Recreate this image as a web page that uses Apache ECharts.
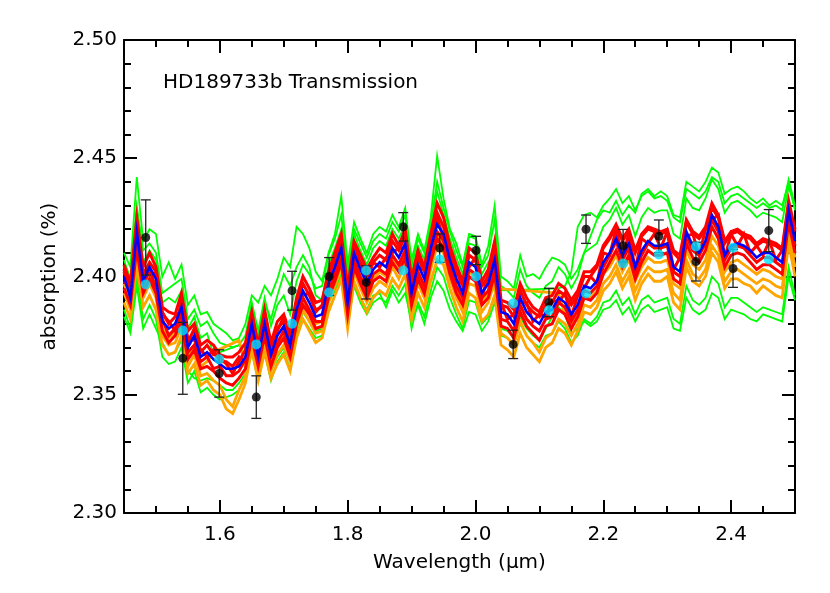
<!DOCTYPE html>
<html>
<head>
<meta charset="utf-8">
<title>HD189733b Transmission</title>
<script src="https://cdn.jsdelivr.net/npm/echarts@6/dist/echarts.min.js"></script>
<style>
  html, body { margin: 0; padding: 0; background: #fff; }
  #chart { width: 830px; height: 593px; }
</style>
</head>
<body>
<div id="chart"></div>
<script>
// wavelength grid of the model spectra (micron)
const wave = [
  1.45, 1.46, 1.47, 1.48, 1.49, 1.50, 1.51, 1.52, 1.53, 1.54,
  1.55, 1.56, 1.57, 1.58, 1.59, 1.60, 1.61, 1.62, 1.63, 1.64,
  1.65, 1.66, 1.67, 1.68, 1.69, 1.70, 1.71, 1.72, 1.73, 1.74,
  1.75, 1.76, 1.77, 1.78, 1.79, 1.80, 1.81, 1.82, 1.83, 1.84,
  1.85, 1.86, 1.87, 1.88, 1.89, 1.90, 1.91, 1.92, 1.93, 1.94,
  1.95, 1.96, 1.97, 1.98, 1.99, 2.00, 2.01, 2.02, 2.03, 2.04,
  2.05, 2.06, 2.07, 2.08, 2.09, 2.10, 2.11, 2.12, 2.13, 2.14,
  2.15, 2.16, 2.17, 2.18, 2.19, 2.20, 2.21, 2.22, 2.23, 2.24,
  2.25, 2.26, 2.27, 2.28, 2.29, 2.30, 2.31, 2.32, 2.33, 2.34,
  2.35, 2.36, 2.37, 2.38, 2.39, 2.40, 2.41, 2.42, 2.43, 2.44,
  2.45, 2.46, 2.47, 2.48, 2.49, 2.50
]

// green model spectra (widest spread)
const green1 = [
  2.410, 2.404, 2.442, 2.415, 2.420, 2.418, 2.400, 2.406, 2.399, 2.405,
  2.388, 2.392, 2.384, 2.385, 2.380, 2.378, 2.376, 2.373, 2.374, 2.380,
  2.392, 2.389, 2.396, 2.392, 2.399, 2.408, 2.404, 2.421, 2.418, 2.412,
  2.402, 2.398, 2.410, 2.418, 2.434, 2.405, 2.423, 2.416, 2.410, 2.418,
  2.421, 2.419, 2.426, 2.421, 2.429, 2.407, 2.418, 2.411, 2.425, 2.451,
  2.433, 2.420, 2.414, 2.405, 2.418, 2.417, 2.405, 2.413, 2.430, 2.400,
  2.398, 2.395, 2.409, 2.400, 2.401, 2.399, 2.404, 2.408, 2.407, 2.405,
  2.399, 2.403, 2.410, 2.417, 2.424, 2.428, 2.427, 2.432, 2.426, 2.430,
  2.427, 2.435, 2.437, 2.434, 2.436, 2.434, 2.426, 2.425, 2.440, 2.438,
  2.436, 2.440, 2.446, 2.444, 2.435, 2.437, 2.438, 2.436, 2.433, 2.431,
  2.433, 2.430, 2.432, 2.430, 2.440, 2.428
]
const green2 = [
  2.407, 2.399, 2.430, 2.411, 2.414, 2.410, 2.393, 2.395, 2.397, 2.399,
  2.382, 2.386, 2.379, 2.381, 2.376, 2.372, 2.371, 2.370, 2.371, 2.375,
  2.389, 2.377, 2.391, 2.379, 2.388, 2.392, 2.384, 2.398, 2.405, 2.401,
  2.395, 2.396, 2.409, 2.416, 2.426, 2.401, 2.420, 2.414, 2.408, 2.415,
  2.418, 2.416, 2.423, 2.419, 2.426, 2.404, 2.416, 2.410, 2.422, 2.440,
  2.429, 2.419, 2.411, 2.404, 2.417, 2.416, 2.404, 2.409, 2.424, 2.396,
  2.394, 2.391, 2.403, 2.396, 2.393, 2.391, 2.396, 2.398, 2.404, 2.401,
  2.395, 2.400, 2.410, 2.412, 2.414, 2.421, 2.424, 2.429, 2.422, 2.426,
  2.417, 2.425, 2.429, 2.427, 2.428, 2.428, 2.418, 2.416, 2.433, 2.429,
  2.428, 2.433, 2.441, 2.437, 2.427, 2.431, 2.432, 2.430, 2.428, 2.425,
  2.427, 2.426, 2.425, 2.423, 2.438, 2.429
]
const green3 = [
  2.386, 2.378, 2.400, 2.382, 2.388, 2.382, 2.366, 2.363, 2.364, 2.370,
  2.355, 2.360, 2.351, 2.353, 2.350, 2.348, 2.349, 2.350, 2.352, 2.357,
  2.368, 2.356, 2.368, 2.356, 2.364, 2.368, 2.361, 2.374, 2.382, 2.378,
  2.374, 2.375, 2.386, 2.392, 2.398, 2.379, 2.396, 2.389, 2.384, 2.389,
  2.391, 2.389, 2.396, 2.392, 2.397, 2.378, 2.389, 2.383, 2.394, 2.404,
  2.400, 2.391, 2.384, 2.378, 2.390, 2.389, 2.380, 2.383, 2.392, 2.375,
  2.374, 2.371, 2.380, 2.375, 2.372, 2.370, 2.375, 2.376, 2.381, 2.378,
  2.372, 2.375, 2.382, 2.380, 2.383, 2.389, 2.390, 2.394, 2.388, 2.391,
  2.384, 2.390, 2.392, 2.389, 2.390, 2.391, 2.382, 2.380, 2.396, 2.390,
  2.388, 2.391, 2.400, 2.397, 2.387, 2.391, 2.391, 2.389, 2.387, 2.385,
  2.387, 2.386, 2.385, 2.384, 2.404, 2.392
]
const green4 = [
  2.383, 2.376, 2.396, 2.378, 2.384, 2.378, 2.372, 2.367, 2.368, 2.373,
  2.360, 2.357, 2.356, 2.357, 2.356, 2.354, 2.352, 2.352, 2.355, 2.359,
  2.371, 2.360, 2.371, 2.360, 2.366, 2.370, 2.364, 2.376, 2.385, 2.381,
  2.377, 2.378, 2.389, 2.394, 2.401, 2.382, 2.398, 2.391, 2.386, 2.392,
  2.393, 2.387, 2.394, 2.389, 2.393, 2.381, 2.388, 2.380, 2.391, 2.398,
  2.394, 2.386, 2.381, 2.377, 2.385, 2.384, 2.377, 2.381, 2.389, 2.378,
  2.377, 2.374, 2.383, 2.378, 2.375, 2.373, 2.378, 2.383, 2.387, 2.384,
  2.376, 2.378, 2.381, 2.379, 2.381, 2.386, 2.387, 2.390, 2.384, 2.387,
  2.381, 2.386, 2.388, 2.385, 2.386, 2.387, 2.378, 2.377, 2.391, 2.386,
  2.384, 2.386, 2.393, 2.391, 2.382, 2.386, 2.385, 2.384, 2.382, 2.381,
  2.384, 2.383, 2.382, 2.381, 2.400, 2.390
]
// this one has masked stretches, bridged by a straight segment
const green5 = [
  2.404, 2.395, 2.428, 2.406, 2.411, 2.407, 2.389, 2.391, 2.389, 2.394,
  2.378, 2.383, 2.374, 2.376, 2.367, null, null, null, 2.371, 2.370,
  2.386, 2.374, 2.389, 2.382, 2.392, 2.401, 2.396, 2.404, 2.409, 2.404,
  2.392, 2.390, 2.405, 2.412, 2.420, 2.398, 2.418, 2.411, 2.405, 2.412,
  2.415, 2.413, 2.420, 2.416, 2.422, 2.401, 2.413, 2.407, 2.420, 2.436,
  2.426, 2.416, 2.408, 2.401, 2.414, 2.413, 2.401, 2.406, 2.394, null,
  null, null, null, null, null, null, null, null, 2.395, 2.396,
  2.402, 2.421, 2.426, 2.427, 2.425, 2.430, 2.433, 2.437, 2.431, 2.434,
  2.428, 2.434, 2.436, 2.433, 2.434, 2.432, 2.425, 2.423, 2.437, 2.435,
  2.433, 2.436, 2.442, 2.440, 2.431, 2.434, 2.435, 2.433, 2.431, 2.429,
  2.431, 2.429, 2.430, 2.428, 2.441, 2.430
]

// orange model spectra
const orange1 = [
  2.393, 2.386, 2.410, 2.391, 2.397, 2.391, 2.375, 2.371, 2.372, 2.379,
  2.362, 2.367, 2.358, 2.359, 2.356, 2.354, 2.348, 2.345, 2.352, 2.358,
  2.372, 2.359, 2.372, 2.360, 2.367, 2.371, 2.364, 2.378, 2.386, 2.381,
  2.376, 2.377, 2.389, 2.396, 2.404, 2.382, 2.402, 2.395, 2.389, 2.395,
  2.398, 2.396, 2.404, 2.399, 2.406, 2.386, 2.397, 2.391, 2.403, 2.413,
  2.410, 2.399, 2.391, 2.385, 2.397, 2.396, 2.385, 2.389, 2.398, 2.376,
  2.374, 2.371, 2.381, 2.375, 2.372, 2.368, 2.374, 2.376, 2.382, 2.380,
  2.375, 2.380, 2.388, 2.387, 2.390, 2.397, 2.400, 2.405, 2.398, 2.403,
  2.394, 2.400, 2.404, 2.402, 2.402, 2.403, 2.393, 2.390, 2.407, 2.401,
  2.399, 2.403, 2.413, 2.409, 2.398, 2.402, 2.403, 2.401, 2.399, 2.397,
  2.399, 2.398, 2.396, 2.395, 2.418, 2.404
]
const orange2 = [
  2.389, 2.382, 2.405, 2.387, 2.392, 2.386, 2.371, 2.367, 2.368, 2.375,
  2.359, 2.363, 2.354, 2.356, 2.352, 2.350, 2.344, 2.342, 2.348, 2.355,
  2.369, 2.356, 2.368, 2.357, 2.363, 2.367, 2.360, 2.374, 2.382, 2.377,
  2.372, 2.374, 2.385, 2.392, 2.399, 2.378, 2.398, 2.391, 2.385, 2.391,
  2.394, 2.392, 2.399, 2.395, 2.401, 2.382, 2.393, 2.387, 2.398, 2.407,
  2.405, 2.395, 2.387, 2.381, 2.393, 2.391, 2.381, 2.384, 2.392, 2.371,
  2.369, 2.366, 2.376, 2.370, 2.367, 2.364, 2.370, 2.372, 2.378, 2.376,
  2.371, 2.377, 2.385, 2.384, 2.387, 2.394, 2.397, 2.402, 2.395, 2.400,
  2.390, 2.397, 2.401, 2.398, 2.398, 2.400, 2.389, 2.386, 2.404, 2.398,
  2.396, 2.400, 2.410, 2.406, 2.395, 2.399, 2.399, 2.397, 2.396, 2.393,
  2.396, 2.394, 2.392, 2.391, 2.414, 2.400
]
const orange3 = [
  2.397, 2.388, 2.414, 2.394, 2.401, 2.396, 2.378, 2.374, 2.377, 2.383,
  2.366, 2.371, 2.362, 2.364, 2.368, null, null, null, 2.373, 2.362,
  2.376, 2.362, 2.376, 2.363, 2.371, 2.375, 2.367, 2.382, 2.390, 2.385,
  2.380, 2.381, 2.393, 2.400, 2.408, 2.386, 2.406, 2.399, 2.393, 2.399,
  2.402, 2.400, 2.408, 2.404, 2.410, 2.389, 2.401, 2.395, 2.407, 2.418,
  2.414, 2.403, 2.395, 2.389, 2.402, 2.400, 2.389, 2.393, 2.395, null,
  null, null, null, null, null, null, null, null, 2.393, 2.384,
  2.379, 2.384, 2.391, 2.391, 2.394, 2.401, 2.404, 2.409, 2.402, 2.407,
  2.398, 2.404, 2.408, 2.406, 2.406, 2.407, 2.397, 2.395, 2.411, 2.405,
  2.403, 2.407, 2.417, 2.413, 2.402, 2.406, 2.407, 2.405, 2.403, 2.401,
  2.403, 2.402, 2.400, 2.399, 2.421, 2.408
]

// red model spectra
const red1 = [
  2.405, 2.397, 2.425, 2.404, 2.410, 2.404, 2.387, 2.385, 2.384, 2.393,
  2.377, 2.380, 2.371, 2.373, 2.371, 2.367, 2.366, 2.366, 2.368, 2.372,
  2.385, 2.371, 2.386, 2.372, 2.381, 2.384, 2.376, 2.391, 2.400, 2.395,
  2.389, 2.390, 2.402, 2.410, 2.418, 2.395, 2.415, 2.409, 2.403, 2.408,
  2.412, 2.410, 2.418, 2.413, 2.420, 2.399, 2.411, 2.404, 2.418, 2.431,
  2.425, 2.413, 2.405, 2.398, 2.412, 2.410, 2.398, 2.403, 2.415, 2.390,
  2.389, 2.386, 2.397, 2.391, 2.387, 2.385, 2.391, 2.392, 2.397, 2.395,
  2.390, 2.394, 2.402, 2.402, 2.405, 2.413, 2.417, 2.422, 2.416, 2.420,
  2.411, 2.418, 2.421, 2.420, 2.419, 2.420, 2.411, 2.409, 2.424, 2.419,
  2.417, 2.421, 2.431, 2.426, 2.415, 2.419, 2.420, 2.418, 2.417, 2.414,
  2.416, 2.415, 2.414, 2.412, 2.432, 2.420
]
const red2 = [
  2.395, 2.388, 2.412, 2.393, 2.399, 2.393, 2.377, 2.372, 2.375, 2.381,
  2.365, 2.369, 2.361, 2.362, 2.360, 2.357, 2.355, 2.354, 2.357, 2.361,
  2.374, 2.362, 2.375, 2.362, 2.370, 2.374, 2.366, 2.380, 2.388, 2.384,
  2.378, 2.379, 2.391, 2.398, 2.406, 2.384, 2.404, 2.397, 2.391, 2.398,
  2.400, 2.398, 2.406, 2.402, 2.408, 2.388, 2.399, 2.393, 2.406, 2.416,
  2.412, 2.401, 2.393, 2.388, 2.400, 2.398, 2.388, 2.391, 2.401, 2.379,
  2.378, 2.374, 2.385, 2.379, 2.376, 2.373, 2.379, 2.380, 2.386, 2.384,
  2.378, 2.383, 2.391, 2.390, 2.393, 2.401, 2.406, 2.411, 2.404, 2.409,
  2.399, 2.406, 2.411, 2.409, 2.409, 2.410, 2.399, 2.397, 2.414, 2.408,
  2.406, 2.411, 2.421, 2.416, 2.404, 2.409, 2.410, 2.409, 2.406, 2.403,
  2.405, 2.405, 2.403, 2.401, 2.423, 2.410
]
const red3 = [
  2.402, 2.394, 2.421, 2.401, 2.406, 2.402, 2.384, 2.381, 2.377, 2.390,
  2.372, 2.378, 2.368, 2.371, 2.367, 2.366, 2.363, 2.359, 2.364, 2.369,
  2.383, 2.368, 2.383, 2.370, 2.378, 2.381, 2.374, 2.389, 2.397, 2.392,
  2.386, 2.387, 2.400, 2.407, 2.415, 2.392, 2.413, 2.406, 2.400, 2.406,
  2.409, 2.407, 2.415, 2.411, 2.417, 2.396, 2.408, 2.402, 2.415, 2.427,
  2.421, 2.410, 2.402, 2.396, 2.409, 2.407, 2.396, 2.400, 2.411, 2.388,
  2.387, 2.383, 2.394, 2.388, 2.385, 2.383, 2.388, 2.389, 2.394, 2.392,
  2.388, 2.392, 2.400, 2.400, 2.404, 2.412, 2.416, 2.421, 2.415, 2.419,
  2.410, 2.417, 2.420, 2.419, 2.418, 2.419, 2.410, 2.407, 2.423, 2.418,
  2.416, 2.420, 2.429, 2.425, 2.414, 2.418, 2.419, 2.417, 2.416, 2.413,
  2.415, 2.414, 2.413, 2.411, 2.430, 2.419
]
const red4 = [
  2.403, 2.393, 2.416, 2.402, 2.402, 2.401, 2.385, 2.380, 2.383, 2.386,
  2.374, 2.373, 2.369, 2.366, 2.369, 2.364, 2.364, 2.362, 2.366, 2.364,
  2.382, 2.369, 2.378, 2.371, 2.377, 2.383, 2.373, 2.389, 2.392, 2.393,
  2.385, 2.388, 2.399, 2.402, 2.414, 2.393, 2.408, 2.406, 2.399, 2.406,
  2.404, 2.408, 2.410, 2.412, 2.412, 2.398, 2.404, 2.403, 2.410, 2.425,
  2.416, 2.411, 2.398, 2.397, 2.404, 2.408, 2.391, 2.401, 2.405, 2.389,
  2.382, 2.384, 2.389, 2.389, 2.381, 2.384, 2.383, 2.390, 2.389, 2.393,
  2.383, 2.392, 2.395, 2.400, 2.397, 2.410, 2.409, 2.420, 2.408, 2.418,
  2.403, 2.416, 2.414, 2.418, 2.412, 2.419, 2.403, 2.408, 2.417, 2.418,
  2.409, 2.420, 2.424, 2.426, 2.408, 2.418, 2.413, 2.418, 2.410, 2.413,
  2.409, 2.415, 2.407, 2.411, 2.425, 2.420
]
const red5 = [
  2.398, 2.394, 2.414, 2.396, 2.403, 2.395, 2.382, 2.375, 2.378, 2.384,
  2.368, 2.371, 2.364, 2.366, 2.361, 2.362, 2.358, 2.358, 2.360, 2.365,
  2.377, 2.365, 2.377, 2.366, 2.372, 2.377, 2.368, 2.383, 2.391, 2.386,
  2.381, 2.381, 2.394, 2.401, 2.409, 2.387, 2.407, 2.400, 2.394, 2.401,
  2.403, 2.401, 2.409, 2.405, 2.411, 2.391, 2.402, 2.396, 2.409, 2.419,
  2.415, 2.404, 2.396, 2.391, 2.403, 2.401, 2.391, 2.394, 2.404, 2.382,
  2.381, 2.377, 2.388, 2.382, 2.379, 2.377, 2.382, 2.383, 2.389, 2.387,
  2.381, 2.386, 2.394, 2.393, 2.396, 2.404, 2.409, 2.415, 2.407, 2.412,
  2.402, 2.409, 2.414, 2.412, 2.412, 2.413, 2.402, 2.400, 2.417, 2.411,
  2.409, 2.414, 2.424, 2.419, 2.407, 2.412, 2.413, 2.412, 2.409, 2.406,
  2.408, 2.408, 2.406, 2.404, 2.426, 2.413
]

// blue best-fit spectrum
const blue = [
  2.400, 2.391, 2.419, 2.398, 2.404, 2.399, 2.381, 2.378, 2.380, 2.387,
  2.370, 2.375, 2.366, 2.368, 2.365, 2.363, 2.361, 2.361, 2.362, 2.366,
  2.380, 2.366, 2.380, 2.367, 2.375, 2.379, 2.371, 2.386, 2.394, 2.389,
  2.383, 2.384, 2.397, 2.404, 2.412, 2.389, 2.410, 2.403, 2.397, 2.403,
  2.406, 2.404, 2.412, 2.408, 2.414, 2.393, 2.405, 2.399, 2.412, 2.422,
  2.418, 2.407, 2.399, 2.393, 2.406, 2.404, 2.393, 2.397, 2.407, 2.385,
  2.384, 2.380, 2.391, 2.385, 2.382, 2.380, 2.385, 2.386, 2.391, 2.389,
  2.384, 2.388, 2.396, 2.395, 2.398, 2.406, 2.410, 2.416, 2.409, 2.414,
  2.404, 2.411, 2.415, 2.413, 2.413, 2.414, 2.404, 2.402, 2.419, 2.413,
  2.410, 2.415, 2.426, 2.421, 2.409, 2.413, 2.414, 2.413, 2.411, 2.408,
  2.410, 2.410, 2.408, 2.406, 2.428, 2.415
]

// binned measurements
const binWave = [1.484, 1.542, 1.599, 1.657, 1.713, 1.771, 1.829, 1.887, 1.944,
                 2.001, 2.059, 2.115, 2.173, 2.231, 2.287, 2.345, 2.403, 2.459]
const obsValue = [2.4165, 2.3654, 2.3590, 2.3490, 2.3940, 2.4000, 2.3975, 2.4210, 2.4120,
                  2.4110, 2.3713, 2.3890, 2.4200, 2.4130, 2.4170, 2.4063, 2.4034, 2.4194]
const obsError = [0.0159, 0.0152, 0.0100, 0.0090, 0.0082, 0.0080, 0.0070, 0.0060, 0.0060,
                  0.0060, 0.0060, 0.0060, 0.0060, 0.0069, 0.0069, 0.0082, 0.0080, 0.0089]
const modelBinned = [2.3966, 2.3772, 2.3650, 2.3713, 2.3800, 2.3932, 2.4025, 2.4025, 2.4072,
                     2.4000, 2.3886, 2.3857, 2.3928, 2.4055, 2.4093, 2.4127, 2.4122, 2.4072]

const FONT = 'DejaVu Sans, Verdana, sans-serif'

function spectrum(values, color, width){
  return {
    type: 'line',
    data: wave.map((w, i) => [w, values[i]]),
    symbol: 'none',
    connectNulls: true,
    silent: true,
    z: 2,
    lineStyle: { color, width, join: 'miter' },
    itemStyle: { color },
  }
}

function xAxisOf(position, major, withLabels){
  return {
    type: 'value',
    position,
    min: 1.45,
    max: 2.5,
    ...(major ? { splitNumber: 5 } : { interval: 0.05 }),
    splitLine: { show: false },
    axisLine: { show: !major, onZero: false, lineStyle: { color: '#000', width: 2 } },
    axisTick: { show: true, inside: true, length: major ? 13 : 7, lineStyle: { color: '#000', width: 2 } },
    axisLabel: withLabels ? {
      show: true,
      margin: 12,
      color: '#000',
      fontSize: 20,
      fontFamily: FONT,
      formatter: v => Math.abs(v * 5 - Math.round(v * 5)) < 1e-6 ? v.toFixed(1) : '',
    } : { show: false },
    ...(withLabels ? {
      name: 'Wavelength (μm)',
      nameLocation: 'middle',
      nameGap: 40,
      nameTextStyle: { color: '#000', fontSize: 20, fontFamily: FONT },
    } : {}),
  }
}

function yAxisOf(position, withLabels){
  return {
    type: 'value',
    position,
    min: 2.3,
    max: 2.5,
    interval: 0.05,
    splitLine: { show: false },
    axisLine: { show: true, onZero: false, lineStyle: { color: '#000', width: 2 } },
    axisTick: { show: true, inside: true, length: 13, lineStyle: { color: '#000', width: 2 } },
    minorTick: { show: true, splitNumber: 5, length: 7, lineStyle: { color: '#000', width: 2 } },
    axisLabel: withLabels ? {
      show: true,
      margin: 7,
      color: '#000',
      fontSize: 20,
      fontFamily: FONT,
      formatter: v => v.toFixed(2),
    } : { show: false },
    ...(withLabels ? {
      name: 'absorption (%)',
      nameLocation: 'middle',
      nameGap: 64,
      nameTextStyle: { color: '#000', fontSize: 20, fontFamily: FONT },
    } : {}),
  }
}

const chart = echarts.init(document.getElementById('chart'), null, { renderer: 'canvas' })
chart.setOption({
  animation: false,
  backgroundColor: '#fff',
  title: {
    text: 'HD189733b Transmission',
    left: 158,
    top: 68,
    textStyle: { color: '#000', fontSize: 20, fontWeight: 'normal', fontFamily: FONT },
  },
  grid: { left: 124, right: 35, top: 40, bottom: 80 },
  xAxis: [
    xAxisOf('bottom', false, true),
    xAxisOf('bottom', true, false),
    xAxisOf('top', false, false),
    xAxisOf('top', true, false),
  ],
  yAxis: [
    yAxisOf('left', true),
    yAxisOf('right', false),
  ],
  series: [
    spectrum(green1, '#00ff00', 1.8),
    spectrum(green2, '#00ff00', 1.8),
    spectrum(green3, '#00ff00', 1.8),
    spectrum(green4, '#00ff00', 1.8),
    spectrum(green5, '#00ff00', 1.8),
    spectrum(orange1, '#ffa500', 2.8),
    spectrum(orange2, '#ffa500', 2.8),
    spectrum(orange3, '#ffa500', 2.8),
    spectrum(red1, '#ff0000', 3),
    spectrum(red2, '#ff0000', 3),
    spectrum(red3, '#ff0000', 3),
    spectrum(red4, '#ff0000', 3),
    spectrum(red5, '#ff0000', 3),
    spectrum(blue, '#0000ff', 2.6),
    {
      type: 'custom',
      silent: true,
      z: 8,
      data: binWave.map((w, i) => [w, obsValue[i], obsError[i]]),
      renderItem(params, api){
        const x = api.value(0)
        const v = api.value(1)
        const e = api.value(2)
        const top = api.coord([x, v + e])
        const bot = api.coord([x, v - e])
        const cap = 5
        const style = { stroke: '#222', lineWidth: 1.3 }
        return {
          type: 'group',
          children: [
            { type: 'line', shape: { x1: top[0], y1: top[1], x2: bot[0], y2: bot[1] }, style },
            { type: 'line', shape: { x1: top[0] - cap, y1: top[1], x2: top[0] + cap, y2: top[1] }, style },
            { type: 'line', shape: { x1: bot[0] - cap, y1: bot[1], x2: bot[0] + cap, y2: bot[1] }, style },
          ],
        }
      },
    },
    {
      type: 'scatter',
      silent: true,
      z: 9,
      data: binWave.map((w, i) => [w, obsValue[i]]),
      symbol: 'circle',
      symbolSize: 9,
      itemStyle: { color: '#000' },
    },
    {
      type: 'scatter',
      silent: true,
      z: 10,
      data: binWave.map((w, i) => [w, modelBinned[i]]),
      symbol: 'circle',
      symbolSize: 10,
      itemStyle: { color: '#00e0ff' },
    },
  ],
})
</script>
</body>
</html>
